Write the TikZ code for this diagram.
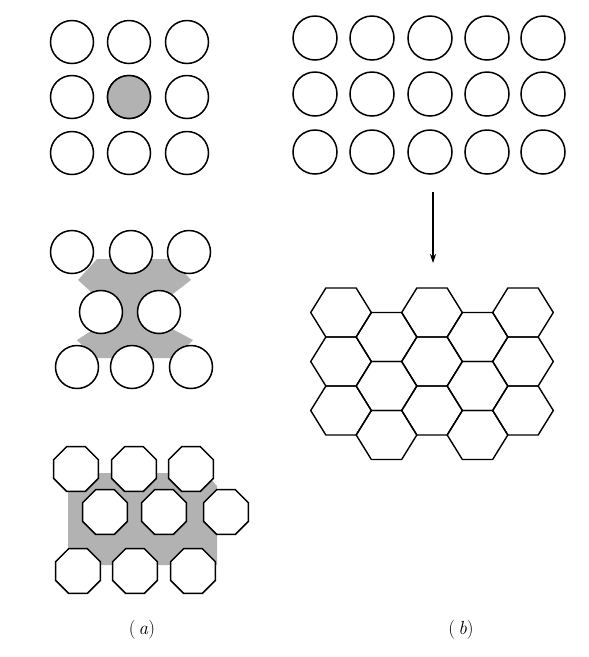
\documentclass[tikz,border=0pt]{standalone}
\usepackage{fontspec}
\usetikzlibrary{shapes.geometric,arrows.meta}
\begin{document}
\begin{tikzpicture}[x=1pt,y=-1pt,
  ball/.style={circle,draw=black,line width=1.5pt,fill=white,inner sep=0pt,minimum size=43pt},
  octo/.style={regular polygon,regular polygon sides=8,draw=black,line width=1.5pt,fill=white,inner sep=0pt,minimum size=48.5pt},
  shade/.style={fill=black!30,draw=none},
  hexline/.style={draw=black,line width=1.4pt,line join=miter},
  lab/.style={font=\fontsize{19}{22}\selectfont,inner sep=0pt}]
\useasboundingbox (0,0) rectangle (589,657);
% ---------- (a) top: square array with one shaded atom
\foreach \c/\x in {1/72,2/129,3/187}{
  \foreach \r/\y in {1/42,2/97,3/153}{
    \node[ball] (s\c\r) at (\x,\y) {};
  }}
\node[ball,fill=black!30] (s22b) at (129,97) {};
% ---------- (a) middle: close packed circles with shaded voids
\path[shade] (78,280) -- (97,259) -- (172,259) -- (191,280) -- (165,300) -- (165,325)
  -- (193,340) -- (175,358) -- (95,358) -- (77,340) -- (100,325) -- (100,300) -- cycle;
\node[ball] (m11) at (72,252) {};
\node[ball] (m21) at (131,252) {};
\node[ball] (m31) at (189,252) {};
\node[ball] (m12) at (101,312) {};
\node[ball] (m22) at (159,312) {};
\node[ball] (m13) at (77,367) {};
\node[ball] (m23) at (132,367) {};
\node[ball] (m33) at (191,367) {};
% ---------- (a) bottom: octagons with shaded voids
\path[shade] (85,473) -- (205,473) -- (217,486) -- (217,565) -- (68,565) -- (68,490) -- cycle;
\node[octo] (o11) at (76,469) {};
\node[octo] (o21) at (134,469) {};
\node[octo] (o31) at (191,469) {};
\node[octo] (o12) at (105,512) {};
\node[octo] (o22) at (164,512) {};
\node[octo] (o32) at (226,512) {};
\node[octo] (o13) at (78,571) {};
\node[octo] (o23) at (135,571) {};
\node[octo] (o33) at (193,571) {};
% ---------- (b) top: array of circles
\foreach \c/\x in {1/315,2/372,3/430,4/487,5/543}{
  \foreach \r/\y in {1/38,2/94,3/152}{
    \node[ball,minimum size=44pt] (b\c\r) at (\x,\y) {};
  }}
% arrow
\coordinate (arrS) at (433,192);
\coordinate (arrE) at (433,263);
\draw[line width=1.1pt,-{Stealth[length=9pt,width=6pt]}] (arrS) -- (arrE);
% ---------- (b) bottom: hexagonal network
\foreach \i in {0,...,4}{
  \pgfmathsetmacro{\cx}{341+45.5*\i}
  \pgfmathsetmacro{\yo}{mod(\i,2)==0 ? 312.5 : 337}
  \foreach \j in {0,1,2}{
    \pgfmathsetmacro{\cy}{\yo+49*\j}
    \draw[hexline] (\cx-30.3,\cy) -- (\cx-15.15,\cy-24.5) -- (\cx+15.15,\cy-24.5)
      -- (\cx+30.3,\cy) -- (\cx+15.15,\cy+24.5) -- (\cx-15.15,\cy+24.5) -- cycle;
  }}
% ---------- labels
\node[lab] (la) at (142,630) {(\,\textit{a})};
\node[lab] (lb) at (461,630) {(\,\textit{b})};
\end{tikzpicture}
\end{document}
